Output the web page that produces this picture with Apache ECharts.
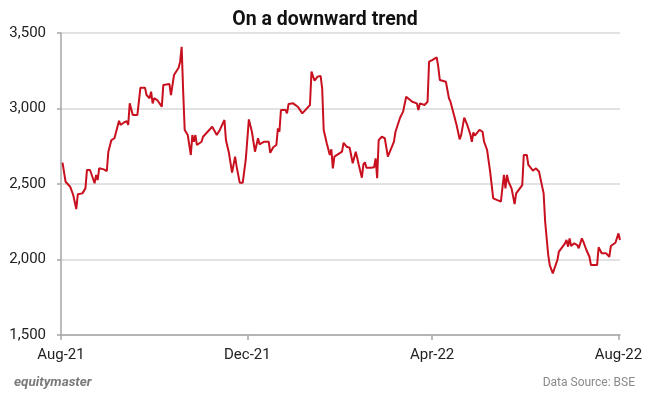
<!DOCTYPE html>
<html>
<head>
<meta charset="utf-8">
<script src="https://cdn.jsdelivr.net/npm/echarts@6/dist/echarts.min.js"></script>
<style>
html,body{margin:0;padding:0;background:#fff;}
#chart{width:650px;height:395px;}
</style>
</head>
<body>
<div id="chart"></div>
<script>
var dates = [
'2021-08-02','2021-08-04','2021-08-07','2021-08-09','2021-08-11','2021-08-12','2021-08-15','2021-08-17','2021-08-18','2021-08-20',
'2021-08-23','2021-08-24','2021-08-25','2021-08-26','2021-08-29','2021-08-31','2021-09-01','2021-09-02','2021-09-03','2021-09-05',
'2021-09-06','2021-09-08','2021-09-09','2021-09-11','2021-09-13','2021-09-14','2021-09-15','2021-09-16','2021-09-17','2021-09-20',
'2021-09-22','2021-09-25','2021-09-26','2021-09-28','2021-09-29','2021-09-30','2021-10-01','2021-10-03','2021-10-06','2021-10-07',
'2021-10-11','2021-10-12','2021-10-13','2021-10-14','2021-10-17','2021-10-18','2021-10-19','2021-10-20','2021-10-21','2021-10-23',
'2021-10-25','2021-10-26','2021-10-27','2021-10-28','2021-10-29','2021-11-01','2021-11-02','2021-11-05','2021-11-08','2021-11-09',
'2021-11-11','2021-11-13','2021-11-16','2021-11-17','2021-11-19','2021-11-21','2021-11-23','2021-11-24','2021-11-25','2021-11-26',
'2021-11-28','2021-11-30','2021-12-01','2021-12-02','2021-12-04','2021-12-06','2021-12-08','2021-12-09','2021-12-12','2021-12-15',
'2021-12-16','2021-12-18','2021-12-20','2021-12-21','2021-12-22','2021-12-23','2021-12-26','2021-12-27','2021-12-28','2021-12-31',
'2022-01-03','2022-01-06','2022-01-09','2022-01-11','2022-01-12','2022-01-14','2022-01-16','2022-01-18','2022-01-19','2022-01-20',
'2022-01-22','2022-01-24','2022-01-25','2022-01-26','2022-01-27','2022-02-01','2022-02-02','2022-02-04','2022-02-06','2022-02-08',
'2022-02-10','2022-02-12','2022-02-14','2022-02-15','2022-02-16','2022-02-17','2022-02-20','2022-02-22','2022-02-23','2022-02-24',
'2022-02-25','2022-02-27','2022-03-01','2022-03-03','2022-03-07','2022-03-08','2022-03-11','2022-03-13','2022-03-15','2022-03-16',
'2022-03-19','2022-03-22','2022-03-23','2022-03-24','2022-03-27','2022-03-29','2022-03-30','2022-04-01','2022-04-04','2022-04-05',
'2022-04-06','2022-04-10','2022-04-12','2022-04-13','2022-04-15','2022-04-17','2022-04-19','2022-04-20','2022-04-22','2022-04-24',
'2022-04-26','2022-04-27','2022-04-28','2022-04-29','2022-05-02','2022-05-04','2022-05-05','2022-05-07','2022-05-09','2022-05-11',
'2022-05-12','2022-05-16','2022-05-17','2022-05-18','2022-05-19','2022-05-20','2022-05-21','2022-05-23','2022-05-25','2022-05-26',
'2022-05-30','2022-05-31','2022-06-02','2022-06-03','2022-06-06','2022-06-08','2022-06-10','2022-06-13','2022-06-14','2022-06-16',
'2022-06-17','2022-06-19','2022-06-22','2022-06-23','2022-06-24','2022-06-27','2022-06-28','2022-06-29','2022-06-30','2022-07-01',
'2022-07-03','2022-07-05','2022-07-06','2022-07-08','2022-07-09','2022-07-11','2022-07-13','2022-07-14','2022-07-18','2022-07-19',
'2022-07-21','2022-07-24','2022-07-25','2022-07-26','2022-07-27','2022-07-30','2022-08-01','2022-08-02'
];
var prices = [
2641,2515,2482,2427,2334,2432,2438,2471,2593,2593,
2505,2560,2526,2604,2597,2586,2714,2725,2791,2803,
2806,2919,2891,2906,2917,2891,3034,3023,2957,2957,
3138,3138,3089,3068,3111,3034,3068,3056,3012,3156,
3162,3089,3089,3222,3270,3310,3409,3111,2858,2824,
2692,2824,2780,2824,2758,2780,2813,2846,2879,2891,
2824,2858,2924,2791,2703,2575,2681,2615,2626,2509,
2509,2664,2670,2928,2846,2714,2803,2763,2780,2780,
2707,2743,2758,2869,2846,2990,2990,2968,3030,3034,
3012,2968,3001,3023,3244,3184,3211,3215,3134,2858,
2770,2692,2730,2604,2681,2714,2773,2747,2740,2637,
2714,2626,2542,2630,2644,2608,2608,2611,2670,2538,
2791,2813,2803,2681,2780,2846,2939,2979,3078,3072,
3045,3034,2990,3034,3023,3045,3310,3321,3339,3277,
3189,3177,3068,3045,2968,2891,2796,2824,2939,2891,
2829,2780,2842,2820,2858,2846,2780,2725,2581,2405,
2416,2383,2376,2560,2471,2560,2515,2471,2367,2438,
2493,2692,2692,2626,2588,2604,2581,2438,2250,2030,
1963,1908,1997,2052,2045,2107,2129,2085,2140,2089,
2107,2096,2074,2140,2118,2063,2018,1963,1963,2081,
2041,2041,2052,2018,2089,2111,2173,2129
];
var xTickDates = ['2021-08-01','2021-12-01','2022-04-01','2022-08-01'];
var xTickLabels = ['Aug-21','Dec-21','Apr-22','Aug-22'];
var yTicks = [1500,2000,2500,3000,3500];

var startMs = Date.UTC(2021,7,1);
function dayOf(s){ return Math.round((Date.parse(s) - startMs)/86400000); }
var xTickDays = xTickDates.map(dayOf);
var seriesData = dates.map(function(d,i){ return [dayOf(d), prices[i]]; });

var chart = echarts.init(document.getElementById('chart'), null, {renderer:'canvas'});
chart.setOption({
  animation:false,
  backgroundColor:'#fff',
  textStyle:{fontFamily:'Roboto'},
  title:[
    {text:'On a downward trend', left:'center', top:5,
     textStyle:{fontFamily:'Roboto', fontWeight:'bold', fontSize:19.5, color:'#111'}},
    {text:'equitymaster', left:9, top:371,
     textStyle:{fontFamily:'Roboto', fontStyle:'italic', fontWeight:'bold', fontSize:13.5, color:'#7a7a7a'}},
    {text:'Data Source: BSE', right:10, top:372,
     textStyle:{fontFamily:'Roboto', fontWeight:'normal', fontSize:12, color:'#8a8a8a'}}
  ],
  grid:{left:61, right:30, top:33, bottom:60, containLabel:false},
  xAxis:{
    type:'value', min:0, max:366,
    axisLine:{show:true, lineStyle:{color:'#a6a6a6', width:1.5}},
    axisTick:{show:true, customValues:xTickDays, length:5, lineStyle:{color:'#a6a6a6', width:1.5}},
    axisLabel:{customValues:xTickDays, margin:13, fontSize:15, color:'#222', fontFamily:'Roboto',
      formatter:function(v){ var i = xTickDays.indexOf(Math.round(v)); return i>=0 ? xTickLabels[i] : ''; }},
    splitLine:{show:false}
  },
  yAxis:{
    type:'value', min:yTicks[0], max:yTicks[yTicks.length-1], interval:500,
    axisLine:{show:true, lineStyle:{color:'#a6a6a6', width:1.5}},
    axisTick:{show:true, length:4, lineStyle:{color:'#a6a6a6', width:1.5}},
    axisLabel:{margin:15, fontSize:15, color:'#222', fontFamily:'Roboto',
      formatter:function(v){ return v.toLocaleString('en-US'); }},
    splitLine:{show:true, lineStyle:{color:'#d9d9d9', width:1.5}}
  },
  series:[{
    type:'line', data:seriesData, showSymbol:false, symbol:'none',
    lineStyle:{color:'#c8101e', width:2},
    itemStyle:{color:'#c8101e'}
  }]
});
</script>
</body>
</html>
